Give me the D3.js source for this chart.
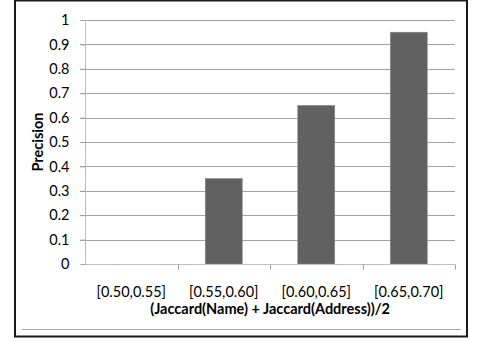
<!DOCTYPE html>
<html><head><meta charset="utf-8">
<script src="https://cdn.jsdelivr.net/npm/d3@7"></script>
<style>
html,body{margin:0;padding:0;background:#fff;}
svg{display:block;}
text{font-family:"Lato","Open Sans",sans-serif;fill:#000;}
</style></head>
<body>
<script>
const categories = ["[0.50,0.55]", "[0.55,0.60]", "[0.60,0.65]", "[0.65,0.70]"];
const precision = [0, 0.35, 0.65, 0.95];
const yTicks = [0, 0.1, 0.2, 0.3, 0.4, 0.5, 0.6, 0.7, 0.8, 0.9, 1];
const yLabel = "Precision";
const xLabel = "(Jaccard(Name) + Jaccard(Address))/2";

(function () {
const W = 481, H = 342;
const svg = d3.select("body").append("svg").attr("width", W).attr("height", H);

// frame
svg.append("rect").attr("x", 15).attr("y", 0.5).attr("width", 452).attr("height", 336)
  .attr("fill", "#fff").attr("stroke", "#1a1a1a").attr("stroke-width", 2);
svg.append("line").attr("x1", 22).attr("x2", 461).attr("y1", 329.5).attr("y2", 329.5)
  .attr("stroke", "#a6a6a6").attr("stroke-width", 1);

const pLeft = 85, pRight = 455, pTop = 20, pBottom = 264;
const x = d3.scaleBand().domain(categories).range([pLeft, pRight]).paddingInner(0).paddingOuter(0);
const y = d3.scaleLinear().domain([0, 1]).range([pBottom, pTop]);

// gridlines
svg.append("g").selectAll("line").data(yTicks.filter(d => d > 0)).enter().append("line")
  .attr("x1", pLeft - 5).attr("x2", pRight)
  .attr("y1", d => Math.round(y(d)) + 0.5).attr("y2", d => Math.round(y(d)) + 0.5)
  .attr("stroke", "#a0a0a0").attr("stroke-width", 1);

// bars
const bw = x.bandwidth() * 0.4;
svg.append("g").selectAll("rect").data(precision).enter().append("rect")
  .attr("x", (d, i) => x(categories[i]) + x.bandwidth() / 2 - bw / 2)
  .attr("width", bw)
  .attr("y", d => y(d))
  .attr("height", d => pBottom - y(d))
  .attr("fill", "#616161")
  .attr("stroke", "#8a8a8a").attr("stroke-width", 0.6);

// y axis
const yAxis = d3.axisLeft(y).tickValues(yTicks).tickSize(5).tickPadding(11)
  .tickFormat(d => String(+d.toFixed(1)));
const ya = svg.append("g").attr("transform", `translate(${pLeft + 0.5},0)`).call(yAxis);
ya.attr("font-family", null).attr("font-size", null);
ya.select(".domain").attr("stroke", "#bdbdbd").attr("d", `M0,${pTop}V${pBottom}`);
ya.selectAll(".tick line").attr("stroke", "#a0a0a0");
ya.selectAll(".tick text").style("font-size", "14.5px").attr("fill", "#000");

// x axis
const xAxis = d3.axisBottom(x).tickSize(0).tickPadding(22);
const xa = svg.append("g").attr("transform", `translate(0,${pBottom + 0.5})`).call(xAxis);
xa.attr("font-family", null).attr("font-size", null);
xa.select(".domain").attr("stroke", "#bdbdbd").attr("d", `M${pLeft},0H${pRight}`);
xa.selectAll(".tick text").style("font-size", "14.5px").attr("fill", "#000");
// category separator ticks
xa.append("g").selectAll("line").data(categories).enter().append("line")
  .attr("x1", d => Math.round(x(d) + x.bandwidth()) + 0.5)
  .attr("x2", d => Math.round(x(d) + x.bandwidth()) + 0.5)
  .attr("y1", 0).attr("y2", 5).attr("stroke", "#a0a0a0");

// axis titles
svg.append("text").attr("x", 270).attr("y", 314).attr("text-anchor", "middle")
  .style("font-size", "14.5px").style("font-weight", "bold").text(xLabel);
svg.append("text").attr("transform", "translate(43,142) rotate(-90)").attr("text-anchor", "middle")
  .style("font-size", "14.5px").style("font-weight", "bold").text(yLabel);
})();
</script>
</body></html>
